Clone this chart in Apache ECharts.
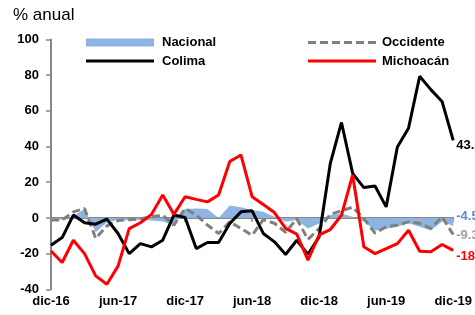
<!DOCTYPE html>
<html>
<head>
<meta charset="utf-8">
<script src="https://cdn.jsdelivr.net/npm/echarts@6/dist/echarts.min.js"></script>
<style>
  html, body { margin: 0; padding: 0; background: #fff; }
  #chart { width: 475px; height: 315px; }
</style>
</head>
<body>
<div id="chart"></div>
<script>
// meses dic-16 .. dic-19
const months = [
  'dic-16',
  'ene-17', 'feb-17', 'mar-17', 'abr-17', 'may-17', 'jun-17', 'jul-17', 'ago-17', 'sep-17', 'oct-17', 'nov-17', 'dic-17',
  'ene-18', 'feb-18', 'mar-18', 'abr-18', 'may-18', 'jun-18', 'jul-18', 'ago-18', 'sep-18', 'oct-18', 'nov-18', 'dic-18',
  'ene-19', 'feb-19', 'mar-19', 'abr-19', 'may-19', 'jun-19', 'jul-19', 'ago-19', 'sep-19', 'oct-19', 'nov-19', 'dic-19'
];

const nacional = [-1, -1, 1, 5, -8, -2.5, -1, -1.5, -1, -1.5, -2, -4, 5, 5.3, 5, 0, 7, 6, 4.4, 3.4, 0.6, -2.2, -1.2,
  -5.9, -3.1, 1.6, 2.5, 0.6, -2, -7, -6, -5, -3, -5, -7, -2, -4.5];
const occidente = [-1.2, -1.2, 3.4, 5.3, -11.5, -4.5, -1.5, -1, -0.5, 0.6, 1.6, -4, 5.3, 1.6, -4, -8.7, -2.2, -5.9, -9.7,
  -1, -3, -8, -0.5, -12, -6, 2, 4, 6, -0.3, -8.5, -5, -4, -2.2, -3, -5.9, 0.6, -9.3];
const colima = [-15.3, -11, 1.6, -2.7, -3.5, -0.7, -8.7, -20, -14.4, -16.2, -12.5, 1.6, 0.3, -17.2, -13.8, -13.8, -3.1,
  3.4, 4, -8.7, -13.4, -20.5, -12.5, -20.4, -10.6, 30.6, 53.5, 25, 17, 17.9, 6.2, 39.7, 50.3, 79.4, 71.9, 65.3, 43.5];
const michoacan = [-18.5, -25, -12.5, -20, -32.5, -37.2, -27, -6, -2.7, 2, 12.8, 2, 11.9, 10.4, 9, 12.8, 31.6, 35.3,
  11.9, 7.5, 3, -5.9, -9.1, -23.7, -9.5, -6.5, 1.5, 24.1, -16.2, -20, -17.2, -14.4, -6.9, -18.7, -19, -14.9, -18.2];

const yMin = -40, yMax = 100, yStep = 20;

const font = "'Liberation Sans', Arial, sans-serif";
const colors = {
  nacional: '#8EB4E3',
  nacLabel: '#558ED5',
  occidente: '#808080',
  occLabel: '#A0A0A0',
  colima: '#000000',
  michoacan: '#FF0000',
  axis: '#878787'
};

const chart = echarts.init(document.getElementById('chart'), null, { renderer: 'canvas' });

function endLabel(color, dy) {
  return {
    show: true,
    color: color,
    fontFamily: font,
    fontWeight: 'bold',
    fontSize: 13,
    distance: 3,
    offset: [0, dy],
    formatter: p => Number(p.value).toFixed(1)
  };
}

function legendItem(name, icon, left, top, h, gap) {
  return {
    data: [{ name: name, icon: icon }],
    left: left,
    top: top,
    padding: 0,
    itemWidth: 68,
    itemHeight: h,
    selectedMode: false,
    itemStyle: { borderWidth: 0 },
    textStyle: {
      color: '#000',
      fontFamily: font,
      fontWeight: 'bold',
      fontSize: 13,
      padding: [0, 0, 0, gap]
    }
  };
}

const barIcon = 'path://M0,0h68v8h-68z';
const lineIcon = 'path://M0,0h68v3h-68z';
const dashIcon = 'path://M0,0h8v3h-8z M12,0h8v3h-8z M24,0h8v3h-8z M36,0h8v3h-8z M48,0h8v3h-8z M60,0h8v3h-8z';

const option = {
  animation: false,
  backgroundColor: '#fff',
  grid: { left: 51, right: 21.5, top: 39.5, bottom: 25.7, containLabel: false },
  graphic: [
    {
      type: 'text',
      left: 13,
      top: 7,
      style: { text: '% anual', fill: '#000', font: '17px ' + font }
    }
  ],
  legend: [
    legendItem('Nacional', barIcon, 86, 36, 8, 3),
    legendItem('Colima', lineIcon, 86, 54.5, 3, 3),
    legendItem('Occidente', dashIcon, 308, 36, 3, 1),
    legendItem('Michoacán', lineIcon, 308, 54.5, 3, 1)
  ],
  xAxis: [
    {
      type: 'category',
      data: months,
      boundaryGap: false,
      axisLine: { show: false, onZero: false },
      axisTick: { show: false },
      axisLabel: {
        interval: 5,
        color: '#000',
        fontFamily: font,
        fontWeight: 'bold',
        fontSize: 13,
        margin: 6
      },
      splitLine: { show: false }
    },
    {
      type: 'category',
      data: months,
      boundaryGap: false,
      position: 'bottom',
      axisLine: { show: true, onZero: true, lineStyle: { color: colors.axis, width: 2 } },
      axisTick: { show: true, interval: 5, length: 4, lineStyle: { color: colors.axis, width: 1.5 } },
      axisLabel: { show: false },
      splitLine: { show: false }
    }
  ],
  yAxis: {
    type: 'value',
    min: yMin,
    max: yMax,
    interval: yStep,
    axisLine: { show: true, lineStyle: { color: colors.axis, width: 2 } },
    axisTick: { show: true, length: 5, lineStyle: { color: colors.axis, width: 1.5 } },
    axisLabel: { color: '#000', fontFamily: font, fontWeight: 'bold', fontSize: 13, margin: 12 },
    splitLine: { show: false }
  },
  series: [
    {
      name: 'Nacional',
      type: 'line',
      data: nacional,
      symbol: 'none',
      color: colors.nacional,
      itemStyle: { color: colors.nacional },
      lineStyle: { width: 0, color: colors.nacional },
      areaStyle: { color: colors.nacional, opacity: 1 },
      endLabel: endLabel(colors.nacLabel, -10),
      z: 1
    },
    {
      name: 'Occidente',
      type: 'line',
      data: occidente,
      symbol: 'none',
      color: colors.occidente,
      itemStyle: { color: colors.occidente },
      lineStyle: { width: 3, color: colors.occidente, type: [8, 4] },
      endLabel: endLabel(colors.occLabel, 1),
      z: 2
    },
    {
      name: 'Colima',
      type: 'line',
      data: colima,
      symbol: 'none',
      color: colors.colima,
      itemStyle: { color: colors.colima },
      lineStyle: { width: 3, color: colors.colima },
      endLabel: endLabel(colors.colima, 5),
      z: 3
    },
    {
      name: 'Michoacán',
      type: 'line',
      data: michoacan,
      symbol: 'none',
      color: colors.michoacan,
      itemStyle: { color: colors.michoacan },
      lineStyle: { width: 3, color: colors.michoacan },
      endLabel: endLabel(colors.michoacan, 6),
      z: 4
    }
  ]
};

chart.setOption(option);
window.addEventListener('resize', () => chart.resize());
</script>
</body>
</html>
